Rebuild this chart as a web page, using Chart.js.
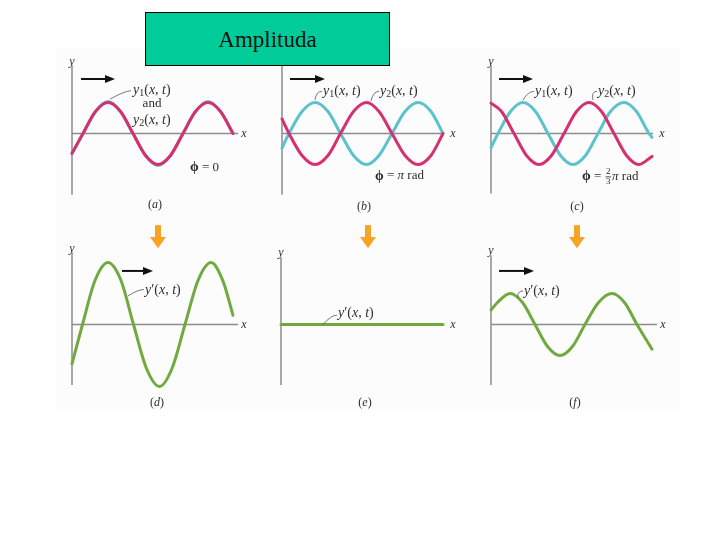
<!DOCTYPE html>
<html>
<head>
<meta charset="utf-8">
<script src="https://cdn.jsdelivr.net/npm/chart.js@4.4.1/dist/chart.umd.min.js"></script>
<style>
  html, body { margin: 0; padding: 0; background: #fff; }
  body { width: 720px; height: 540px; position: relative; overflow: hidden; }
  #figure { position: absolute; left: 57px; top: 48px; width: 623px; height: 362px; background: #fcfcfc; }
  canvas { position: absolute; }
  #title {
    position: absolute; left: 145px; top: 12px; width: 245px; height: 54px;
    box-sizing: border-box; border: 1px solid #000; background: #00cc99;
    font: 23px "Liberation Serif", "Times New Roman", serif; color: #111;
    text-align: center; line-height: 54px; z-index: 5;
  }
</style>
</head>
<body>
<div id="figure"></div>
<canvas id="pa" width="200" height="168" style="left:58px;top:50px"></canvas>
<canvas id="pb" width="200" height="168" style="left:268px;top:50px"></canvas>
<canvas id="pc" width="200" height="168" style="left:477px;top:50px"></canvas>
<canvas id="pd" width="200" height="190" style="left:58px;top:220px"></canvas>
<canvas id="pe" width="200" height="190" style="left:267px;top:220px"></canvas>
<canvas id="pf" width="200" height="190" style="left:477px;top:220px"></canvas>
<div id="title">Amplituda</div>

<script>
// wave readings: x = distance from the y axis, y = displacement (in units of one wave amplitude)

// (a) phi = 0, y1 and y2 on top of each other
const aX  = [0, 11, 23.5, 36, 48.5, 61, 73.5, 86, 98.5, 111, 123.5, 136, 148.5, 161];
const aY1 = [-0.65, 0, 0.71, 1.03, 0.71, 0, -0.71, -1.03, -0.71, 0, 0.71, 1.03, 0.71, 0];
const aY2 = [-0.64, 0, 0.71, 1, 0.71, 0, -0.71, -1, -0.71, 0, 0.71, 1, 0.71, 0];

// (b) phi = pi rad
const bX  = [0, 7, 20, 33, 46, 58.5, 71.5, 84.5, 97, 110, 123, 136, 149, 161];
const bY1 = [-0.47, 0, 0.71, 1, 0.71, 0, -0.71, -1, -0.71, 0, 0.71, 1, 0.71, 0];
const bY2 = [0.47, 0, -0.71, -1, -0.71, 0, 0.71, 1, 0.71, 0, -0.71, -1, -0.71, 0];

// (c) phi = 2/3 pi rad
const cX1 = [0, 7, 19.5, 32, 44.5, 57, 69.5, 82, 94.5, 107, 119.5, 133, 145.5, 158, 161];
const cY1 = [-0.46, 0, 0.71, 1, 0.71, 0, -0.71, -1, -0.71, 0, 0.71, 1, 0.71, 0, -0.12];
const cX2 = [0, 10.5, 23, 35.5, 48, 60.5, 73, 85.5, 98, 110.5, 123, 135.5, 148, 161];
const cY2 = [0.98, 0.71, 0, -0.71, -1, -0.71, 0, 0.71, 1, 0.71, 0, -0.71, -1, -0.74];

// (d) resultant, double amplitude
const dX = [0, 10.5, 23, 36, 49, 61.5, 74.5, 87.5, 100, 113, 126, 139, 151, 161];
const dY = [-1.27, 0, 1.42, 2, 1.42, 0, -1.42, -2, -1.42, 0, 1.42, 2, 1.4, 0.3];

// (e) resultant, cancelled
const eX = [0, 162];
const eY = [0, 0];

// (f) resultant, same amplitude
const fX = [0, 6.5, 19, 31.5, 44, 56.5, 69, 81.5, 94, 107.5, 121, 133.5, 146, 161];
const fY = [0.47, 0.71, 1, 0.71, 0, -0.71, -1, -0.71, 0, 0.71, 1, 0.71, 0, -0.8];

const MAGENTA = 'rgb(214, 48, 112)';
const CYAN = 'rgb(92, 194, 205)';
const GREEN = 'rgb(112, 170, 62)';
const AXIS = '#8c8c8c';
const INK = '#2e2e2e';
const ORANGE = 'rgb(247, 164, 38)';

const SERIF = '"Liberation Serif", "DejaVu Serif", serif';
const font = (style, size) => `${style} ${size}px ${SERIF}`;
const it = t => ({ t, f: font('italic', 14) });
const up = t => ({ t, f: font('normal', 14) });
const sub = t => ({ t, f: font('normal', 10), dy: 3 });
const sym = (t, style) => ({ t, f: font(style || 'normal', 13) });
const bold = t => ({ t, f: font('bold', 14) });
const frac = (n, d) => ({ frac: [n, d], f: font('normal', 9) });
const cap = l => [{ t: '(', f: font('normal', 12) }, { t: l, f: font('italic', 12) }, { t: ')', f: font('normal', 12) }];
const wave = s => [it('y'), s, up('('), it('x'), up(', '), it('t'), up(')')];

const LABELS = {
  y1: wave(sub('1')),
  y2: wave(sub('2')),
  yr: wave(up('\u2032')),
  and: [sym('and')],
  phi0: [bold('\u03d5'), sym(' = 0')],
  phiPi: [bold('\u03d5'), sym(' = '), sym('\u03c0', 'italic'), sym(' rad')],
  phi23: [bold('\u03d5'), sym(' = '), frac('2', '3'), sym('\u03c0', 'italic'), sym(' rad')],
  capA: cap('a'), capB: cap('b'), capC: cap('c'),
  capD: cap('d'), capE: cap('e'), capF: cap('f')
};

function drawRich(ctx, segs, x, y, align) {
  let total = 0;
  const widths = segs.map(s => {
    ctx.font = s.f;
    const w = s.frac ? Math.max(...s.frac.map(v => ctx.measureText(v).width)) + 3 : ctx.measureText(s.t).width;
    total += w;
    return w;
  });
  let cx = align === 'center' ? x - total / 2 : x;
  ctx.textBaseline = 'middle';
  segs.forEach((s, i) => {
    ctx.font = s.f;
    if (s.frac) {
      ctx.textAlign = 'center';
      ctx.fillText(s.frac[0], cx + widths[i] / 2, y - 5);
      ctx.fillText(s.frac[1], cx + widths[i] / 2, y + 5);
      ctx.fillRect(cx + 1, y - 0.4, widths[i] - 2, 0.8);
    } else {
      ctx.textAlign = 'left';
      ctx.fillText(s.t, cx, y + (s.dy || 0));
    }
    cx += widths[i];
  });
}

// panel layout, in the data units of each panel
const panels = [
  { id: 'pa', top: true, yTop: 2.21, yBot: -1.98, yLab: 2.33, xEnd: 166, xLab: 172, arrow: [9, 43, 1.76],
    labels: [['y1', 61, 1.4, 'left'], ['and', 80, 0.96, 'center'], ['y2', 61, 0.44, 'left'],
             ['phi0', 118, -1.11, 'left'], ['capA', 83, -2.31, 'center']],
    leaders: [[38, 1.11, 59, 1.38]],
    series: [[aX, aY2, MAGENTA], [aX, aY1, CYAN]] },
  { id: 'pb', top: true, yTop: 2.35, yBot: -1.98, yLab: 2.45, xEnd: 161, xLab: 171, arrow: [8, 43, 1.76],
    labels: [['y1', 41, 1.37, 'left'], ['y2', 98, 1.37, 'left'], ['phiPi', 93, -1.37, 'left'], ['capB', 82, -2.37, 'center']],
    leaders: [[33, 1.08, 40, 1.36], [89, 1.05, 97, 1.36]],
    series: [[bX, bY2, MAGENTA], [bX, bY1, CYAN]] },
  { id: 'pc', top: true, yTop: 2.21, yBot: -1.94, yLab: 2.31, xEnd: 162, xLab: 171, arrow: [8, 42, 1.76],
    labels: [['y1', 44, 1.37, 'left'], ['y2', 107, 1.37, 'left'], ['phi23', 91, -1.4, 'left'], ['capC', 86, -2.37, 'center']],
    leaders: [[32, 1.08, 43, 1.36], [102, 1.08, 106, 1.36]],
    series: [[cX2, cY2, MAGENTA], [cX1, cY1, CYAN]] },
  { id: 'pd', top: false, yTop: 2.34, yBot: -1.95, yLab: 2.44, xEnd: 166, xLab: 172, arrow: [50, 81, 1.73],
    drop: [86, 3.21, 2.83, 2.46],
    labels: [['yr', 73, 1.11, 'left'], ['capD', 85, -2.54, 'center']],
    leaders: [[56, 0.92, 72, 1.13]],
    series: [[dX, dY, GREEN]] },
  { id: 'pe', top: false, yTop: 2.18, yBot: -1.95, yLab: 2.32, xEnd: 162, xLab: 172,
    drop: [87, 3.21, 2.83, 2.46],
    labels: [['yr', 57, 0.37, 'left'], ['capE', 84, -2.54, 'center']],
    leaders: [[42, 0, 56, 0.3]],
    series: [[eX, eY, GREEN]] },
  { id: 'pf', top: false, yTop: 2.24, yBot: -1.95, yLab: 2.37, xEnd: 166, xLab: 172, arrow: [8, 43, 1.73],
    drop: [86, 3.21, 2.83, 2.46],
    labels: [['yr', 33, 1.08, 'left'], ['capF', 84, -2.54, 'center']],
    leaders: [[27, 0.88, 32, 1.08]],
    series: [[fX, fY, GREEN]] }
];

function overlay(p) {
  return {
    id: 'overlay_' + p.id,
    beforeDatasetsDraw(chart) {
      const ctx = chart.ctx, sx = chart.scales.x, sy = chart.scales.y;
      ctx.save();
      ctx.strokeStyle = AXIS;
      ctx.lineWidth = 1.5;
      ctx.beginPath();
      ctx.moveTo(sx.getPixelForValue(0), sy.getPixelForValue(p.yTop));
      ctx.lineTo(sx.getPixelForValue(0), sy.getPixelForValue(p.yBot));
      ctx.moveTo(sx.getPixelForValue(0), sy.getPixelForValue(0));
      ctx.lineTo(sx.getPixelForValue(p.xEnd), sy.getPixelForValue(0));
      ctx.stroke();
      ctx.restore();
    },
    afterDatasetsDraw(chart) {
      const ctx = chart.ctx, sx = chart.scales.x, sy = chart.scales.y;
      const px = v => sx.getPixelForValue(v), py = v => sy.getPixelForValue(v);
      ctx.save();
      ctx.fillStyle = INK;
      ctx.font = font('italic', 12);
      ctx.textAlign = 'center';
      ctx.textBaseline = 'middle';
      ctx.fillText('y', px(0), py(p.yLab));
      ctx.fillText('x', px(p.xLab), py(0));

      // direction of travel
      if (p.arrow) {
        const [x0, x1, ya] = p.arrow;
        ctx.strokeStyle = '#111';
        ctx.fillStyle = '#111';
        ctx.lineWidth = 2;
        ctx.beginPath();
        ctx.moveTo(px(x0), py(ya));
        ctx.lineTo(px(x1) - 8, py(ya));
        ctx.stroke();
        ctx.beginPath();
        ctx.moveTo(px(x1), py(ya));
        ctx.lineTo(px(x1) - 10, py(ya) - 4);
        ctx.lineTo(px(x1) - 10, py(ya) + 4);
        ctx.closePath();
        ctx.fill();
      }

      // orange "gives" arrow
      if (p.drop) {
        const [xc, y0, yn, yt] = p.drop;
        ctx.fillStyle = ORANGE;
        ctx.fillRect(px(xc) - 3, py(y0), 6, py(yn) - py(y0) + 1);
        ctx.beginPath();
        ctx.moveTo(px(xc) - 8, py(yn));
        ctx.lineTo(px(xc) + 8, py(yn));
        ctx.lineTo(px(xc), py(yt));
        ctx.closePath();
        ctx.fill();
      }

      ctx.strokeStyle = '#555';
      ctx.lineWidth = 0.8;
      p.leaders.forEach(([x0, y0, x1, y1]) => {
        ctx.beginPath();
        ctx.moveTo(px(x0), py(y0));
        ctx.quadraticCurveTo(px(x1) - 6, py(y1), px(x1), py(y1));
        ctx.stroke();
      });

      ctx.fillStyle = INK;
      p.labels.forEach(([k, x, y, a]) => drawRich(ctx, LABELS[k], px(x), py(y), a));
      ctx.restore();
    }
  };
}

panels.forEach(p => {
  new Chart(document.getElementById(p.id), {
    type: 'line',
    data: {
      datasets: p.series.map(([xs, ys, color]) => ({
        data: xs.map((x, i) => ({ x: x, y: ys[i] })),
        borderColor: color,
        borderWidth: 3,
        fill: false,
        clip: false
      }))
    },
    options: {
      responsive: false,
      animation: false,
      events: [],
      layout: { padding: p.top ? { left: 14, right: 6, top: 3, bottom: 4 } : { left: 14, right: 6, top: 24, bottom: 5 } },
      scales: {
        x: { type: 'linear', min: 0, max: 180, display: false },
        y: { min: -2.6, max: 2.6, display: false }
      },
      plugins: { legend: { display: false }, tooltip: { enabled: false } },
      elements: {
        point: { radius: 0 },
        line: { cubicInterpolationMode: 'monotone', borderCapStyle: 'round' }
      }
    },
    plugins: [overlay(p)]
  });
});
</script>
</body>
</html>
